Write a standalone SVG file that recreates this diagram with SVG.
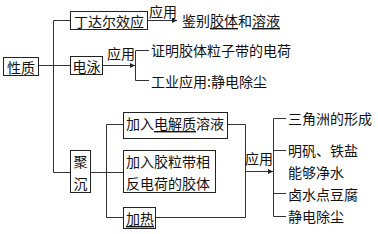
<svg xmlns="http://www.w3.org/2000/svg" width="378" height="234" viewBox="0 0 378 234">
<defs>
<style>
.bx{fill:#fff;stroke:#222;stroke-width:1}
.ln{fill:none;stroke:#333;stroke-width:1}
text{font-family:"Noto Sans CJK SC","Noto Sans",sans-serif;font-size:14px;fill:#111;dominant-baseline:central}
.mid{text-anchor:middle}
.u{text-decoration:underline}
</style>
<marker id="ah" markerWidth="6" markerHeight="6" refX="5" refY="3" orient="auto" markerUnits="userSpaceOnUse">
<path d="M0,0.5 L5,3 L0,5.5 Z" fill="#222"/>
</marker>
</defs>
<rect width="378" height="234" fill="#fff"/>
<g id="connectors">
<path class="ln" d="M53.5,20.5 V172.5 M53.5,20.5 H70 M38,65.5 H70 M53.5,172.5 H70"/>
<path class="ln" d="M148,20.5 H177" marker-end="url(#ah)"/>
<text class="mid" x="163" y="11">应用</text>
<path class="ln" d="M102,65.5 H135" marker-end="url(#ah)"/>
<text class="mid" x="121" y="53">应用</text>
<path class="ln" d="M149,50.5 H135.5 V80.5 H149"/>
<path class="ln" d="M90,172.5 H123 M123,124.5 H106.5 V217.5 H123"/>
<path class="ln" d="M227,124.5 H245.5 V217.5 H155"/>
<path class="ln" d="M245.5,171.5 H273" marker-end="url(#ah)"/>
<text class="mid" x="259" y="158">应用</text>
<path class="ln" d="M286,118.5 H273.5 V216.5 H286 M273.5,150.5 H286 M273.5,193.5 H286"/>
</g>
<g id="n-xingzhi"><rect class="bx" x="3.5" y="57.5" width="35" height="18"/><text class="mid" x="21" y="66.5">性质</text></g>
<g id="n-tyndall"><rect class="bx" x="70.5" y="11.5" width="77" height="18"/><text class="mid" x="109" y="21">丁达尔效应</text></g>
<g id="n-jianbie"><text x="182" y="20">鉴别<tspan class="u">胶体</tspan>和<tspan class="u">溶液</tspan></text></g>
<g id="n-dianyong"><rect class="bx" x="70.5" y="56.5" width="32" height="18"/><text class="mid" x="86.5" y="65.5">电泳</text></g>
<g id="n-zhengming"><text x="151" y="50">证明胶体粒子带的电荷</text></g>
<g id="n-gongye"><text x="151" y="81">工业应用:静电除尘</text></g>
<g id="n-jucheng"><rect class="bx" x="70.5" y="150.5" width="20" height="42"/><text class="mid" x="80.5" y="161">聚</text><text class="mid" x="80.5" y="183">沉</text></g>
<g id="n-dianjiezhi"><rect class="bx" x="123.5" y="112.5" width="104" height="26"/><text x="126" y="123">加入<tspan class="u">电解质</tspan>溶液</text></g>
<g id="n-jiaoli"><rect class="bx" x="123.5" y="150.5" width="92" height="42"/><text x="126" y="161">加入胶粒带相</text><text x="126" y="183">反电荷的胶体</text></g>
<g id="n-jiare"><rect class="bx" x="123.5" y="207.5" width="32" height="21"/><text class="u" x="126" y="218">加热</text></g>
<g id="n-sanjiaozhou"><text x="288" y="118">三角洲的形成</text></g>
<g id="n-mingfan"><text x="288" y="150">明矾、铁盐</text><text x="288" y="172">能够净水</text></g>
<g id="n-lushui"><text x="288" y="194">卤水点豆腐</text></g>
<g id="n-jingdian"><text x="288" y="216">静电除尘</text></g>
</svg>
